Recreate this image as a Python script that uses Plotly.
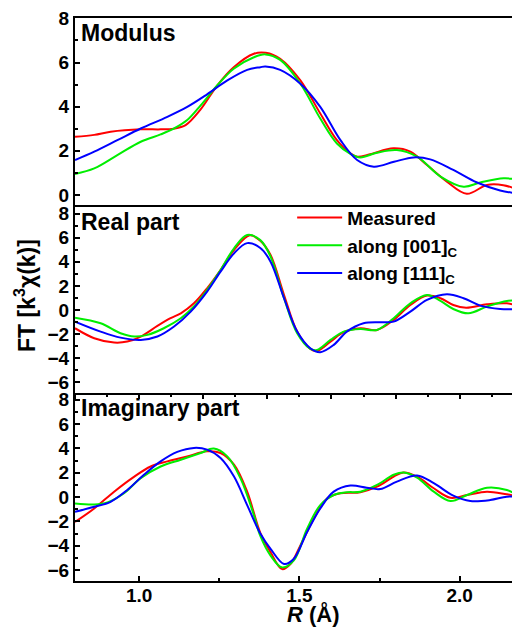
import plotly.graph_objects as go

# ---------------- data ----------------
# Modulus panel
mod_meas_x = [0.80, 0.86, 0.911, 1.005, 1.067, 1.108, 1.145, 1.19, 1.244, 1.295, 1.358, 1.395, 1.44, 1.503, 1.565, 1.617, 1.659, 1.68, 1.72, 1.793, 1.846, 1.898, 1.96, 2.022, 2.085, 2.136, 2.188]
mod_meas_y = [2.63, 2.72, 2.86, 2.97, 2.97, 3.0, 3.16, 3.84, 4.97, 5.79, 6.4, 6.44, 6.17, 5.19, 3.69, 2.48, 1.88, 1.73, 1.84, 2.11, 1.96, 1.35, 0.6, 0.05, 0.45, 0.44, 0.2]
mod_001_x = [0.80, 0.86, 0.932, 1.005, 1.067, 1.109, 1.15, 1.192, 1.244, 1.295, 1.358, 1.394, 1.44, 1.503, 1.565, 1.617, 1.66, 1.69, 1.742, 1.804, 1.867, 1.94, 2.012, 2.064, 2.137, 2.188]
mod_001_y = [0.95, 1.2, 1.8, 2.41, 2.74, 3.01, 3.39, 4.06, 4.97, 5.72, 6.24, 6.37, 6.12, 5.04, 3.46, 2.33, 1.85, 1.7, 1.91, 2.03, 1.73, 0.83, 0.37, 0.56, 0.75, 0.68]
mod_111_x = [0.80, 0.86, 0.932, 1.005, 1.088, 1.15, 1.212, 1.275, 1.337, 1.378, 1.394, 1.44, 1.503, 1.565, 1.628, 1.68, 1.732, 1.795, 1.856, 1.908, 1.98, 2.054, 2.126, 2.188]
mod_111_y = [1.58, 1.96, 2.48, 3.01, 3.54, 3.99, 4.56, 5.19, 5.67, 5.79, 5.82, 5.67, 5.04, 3.99, 2.48, 1.58, 1.28, 1.5, 1.7, 1.61, 1.13, 0.56, 0.2, 0.05]

# Real part panel
re_meas_x = [0.80, 0.86, 0.922, 0.963, 1.005, 1.057, 1.098, 1.13, 1.171, 1.212, 1.254, 1.296, 1.345, 1.378, 1.41, 1.452, 1.493, 1.534, 1.555, 1.597, 1.638, 1.69, 1.742, 1.794, 1.846, 1.898, 1.94, 1.98, 2.02, 2.085, 2.147, 2.188]
re_meas_y = [-1.52, -2.35, -2.71, -2.63, -2.21, -1.33, -0.69, -0.28, 0.55, 1.8, 3.32, 4.98, 6.2, 5.75, 4.56, 1.24, -1.8, -3.24, -3.4, -2.63, -1.85, -1.52, -1.66, -0.83, 0.41, 1.19, 0.97, 0.41, 0.19, 0.47, 0.55, 0.28]
re_001_x = [0.80, 0.88, 0.942, 0.985, 1.026, 1.077, 1.13, 1.171, 1.212, 1.254, 1.296, 1.337, 1.378, 1.41, 1.452, 1.493, 1.534, 1.555, 1.597, 1.638, 1.69, 1.742, 1.794, 1.846, 1.898, 1.94, 1.98, 2.027, 2.085, 2.147, 2.188]
re_001_y = [-0.64, -1.11, -1.94, -2.21, -2.07, -1.52, -0.69, 0.28, 1.66, 3.32, 5.12, 6.22, 5.8, 4.43, 0.97, -1.94, -3.24, -3.32, -2.49, -1.8, -1.58, -1.66, -0.69, 0.55, 1.24, 0.75, 0.08, -0.28, 0.28, 0.75, 0.75]
re_111_x = [0.80, 0.88, 0.942, 1.005, 1.057, 1.109, 1.161, 1.212, 1.254, 1.296, 1.337, 1.378, 1.41, 1.452, 1.493, 1.534, 1.565, 1.607, 1.648, 1.70, 1.752, 1.794, 1.846, 1.898, 1.96, 2.012, 2.064, 2.126, 2.188]
re_111_y = [-0.97, -1.8, -2.3, -2.49, -2.21, -1.38, -0.14, 1.52, 3.18, 4.7, 5.55, 5.15, 4.01, 0.97, -1.8, -3.18, -3.51, -2.9, -1.8, -1.11, -1.02, -0.97, -0.14, 0.83, 1.3, 0.97, 0.36, 0.08, 0.08]

# Imaginary part panel
im_meas_x = [0.80, 0.86, 0.922, 0.985, 1.036, 1.088, 1.15, 1.212, 1.254, 1.296, 1.337, 1.378, 1.41, 1.446, 1.472, 1.503, 1.545, 1.587, 1.628, 1.69, 1.742, 1.794, 1.825, 1.867, 1.919, 1.971, 2.023, 2.085, 2.147, 2.188]
im_meas_y = [-2.05, -0.94, 0.44, 1.68, 2.51, 2.93, 3.34, 3.76, 3.62, 2.66, 0.44, -2.95, -4.54, -5.92, -5.5, -3.98, -1.77, -0.11, 0.31, 0.39, 0.85, 1.68, 2.02, 1.68, 0.72, -0.06, 0.17, 0.44, 0.22, 0.03]
im_001_x = [0.80, 0.86, 0.901, 0.953, 1.005, 1.067, 1.13, 1.192, 1.233, 1.275, 1.316, 1.358, 1.378, 1.41, 1.446, 1.482, 1.524, 1.565, 1.607, 1.648, 1.69, 1.742, 1.794, 1.825, 1.867, 1.919, 1.971, 2.023, 2.085, 2.147, 2.188]
im_001_y = [-0.52, -0.61, -0.44, 0.31, 1.55, 2.51, 3.07, 3.62, 3.98, 3.34, 1.55, -1.49, -3.2, -4.81, -5.78, -5.23, -2.6, -0.66, 0.17, 0.39, 0.44, 1.0, 1.83, 2.02, 1.6, 0.44, -0.33, 0.17, 0.77, 0.58, 0.03]
im_111_x = [0.80, 0.86, 0.911, 0.963, 1.015, 1.067, 1.119, 1.171, 1.212, 1.254, 1.296, 1.337, 1.378, 1.41, 1.452, 1.482, 1.524, 1.565, 1.607, 1.659, 1.71, 1.752, 1.804, 1.867, 1.919, 1.98, 2.033, 2.095, 2.147, 2.188]
im_111_y = [-1.22, -0.8, -0.39, 0.58, 1.83, 2.93, 3.71, 4.04, 3.9, 3.21, 1.68, -0.66, -3.0, -4.26, -5.5, -5.09, -2.88, -0.94, 0.44, 0.94, 0.77, 0.66, 1.27, 1.77, 1.14, 0.11, -0.33, -0.25, 0.03, 0.03]

series_names = ["Measured", "along [001]<sub>C</sub>", "along [111]<sub>C</sub>"]
series_colors = ["#ff0000", "#00ee00", "#0000ff"]
panel_titles = ["Modulus", "Real part", "Imaginary part"]

# ---------------- figure ----------------
FONT = "Liberation Sans, Arial, sans-serif"
fig = go.Figure()

panels = [
    ("x", "y", [(mod_meas_x, mod_meas_y), (mod_001_x, mod_001_y), (mod_111_x, mod_111_y)]),
    ("x2", "y2", [(re_meas_x, re_meas_y), (re_001_x, re_001_y), (re_111_x, re_111_y)]),
    ("x3", "y3", [(im_meas_x, im_meas_y), (im_001_x, im_001_y), (im_111_x, im_111_y)]),
]
for pi, (xa, ya, data) in enumerate(panels):
    for si, (xs, ys) in enumerate(data):
        fig.add_trace(go.Scatter(
            x=xs, y=ys, mode="lines", xaxis=xa, yaxis=ya,
            line=dict(color=series_colors[si], width=2, shape="spline", smoothing=1.0),
            name=series_names[si], legendgroup=str(si), showlegend=(pi == 1),
        ))

XR = [0.8, 2.188]
tickfont = dict(family=FONT, size=19, color="black", weight="bold")
common_x = dict(range=XR, showgrid=False, zeroline=False, showline=True, linewidth=2,
                linecolor="black")
common_y = dict(showgrid=False, zeroline=False, showline=True, linewidth=2, linecolor="black",
                ticks="inside", ticklen=5, tickwidth=1.5, tickcolor="black", dtick=2, tick0=0,
                minor=dict(ticks="inside", ticklen=3, tickwidth=1.5, dtick=1, tickcolor="black"),
                tickfont=tickfont, ticklabelstandoff=0)

d_bot = [0, 188 / 563]
d_mid = [188 / 563, 374 / 563]
d_top = [374 / 563, 1]

# page has an 8px body margin, so the figure is sized/placed to compensate
fig.update_layout(
    width=512, height=621,
    margin=dict(l=67, r=0, t=10, b=48),
    paper_bgcolor="white", plot_bgcolor="white",
    showlegend=True,
    xaxis=dict(**common_x, domain=[0, 1], anchor="y", side="top", ticks="", showticklabels=False),
    xaxis2=dict(**common_x, domain=[0, 1], anchor="y2", mirror=True, ticks="outside", ticklen=4,
                tickwidth=1.5, tickcolor="black", dtick=0.2, tick0=0, showticklabels=False,
                minor=dict(ticks="outside", ticklen=2, tickwidth=1.5, dtick=0.1, tickcolor="black")),
    xaxis3=dict(**common_x, domain=[0, 1], anchor="y3", ticks="inside", ticklen=5, tickwidth=1.5,
                tickcolor="black", dtick=0.5, tick0=0, tickformat=".1f", tickfont=tickfont,
                ticklabelstandoff=-4,
                minor=dict(ticks="inside", ticklen=3, tickwidth=1.5, dtick=0.25, tickcolor="black")),
    yaxis=dict(**common_y, domain=d_top, anchor="x", range=[-0.55, 8.02]),
    yaxis2=dict(**common_y, domain=d_mid, anchor="x2", range=[-6.9, 8.55]),
    yaxis3=dict(**common_y, domain=d_bot, anchor="x3", range=[-6.9, 8.55]),
    legend=dict(x=0.488, y=0.679, xanchor="left", yanchor="top", bgcolor="rgba(0,0,0,0)",
                font=dict(family=FONT, size=19, color="black", weight="bold"),
                itemwidth=45, tracegroupgap=0),
)

ann_font = dict(family=FONT, size=23, color="black", weight="bold")
for i, (t, yref) in enumerate(zip(panel_titles, ["y domain", "y2 domain", "y3 domain"])):
    fig.add_annotation(text=t, xref="x domain" if i == 0 else f"x{i+1} domain", yref=yref,
                       x=0, y=1, xanchor="left", yanchor="top", xshift=4, yshift=0,
                       showarrow=False, font=ann_font)

fig.add_annotation(text="FT [k<sup>3</sup>χ(k)]", xref="paper", yref="paper",
                   x=(25 - 75) / 445, y=(581 - 296) / 563, textangle=-90,
                   xanchor="center", yanchor="middle", showarrow=False, font=ann_font)
fig.add_annotation(text="<i>R</i> (Å)", xref="paper", yref="paper",
                   x=(313 - 75) / 445, y=(581 - 614) / 563,
                   xanchor="center", yanchor="middle", showarrow=False,
                   font=dict(family=FONT, size=22, color="black", weight="bold"))

fig.write_html("out.html")
